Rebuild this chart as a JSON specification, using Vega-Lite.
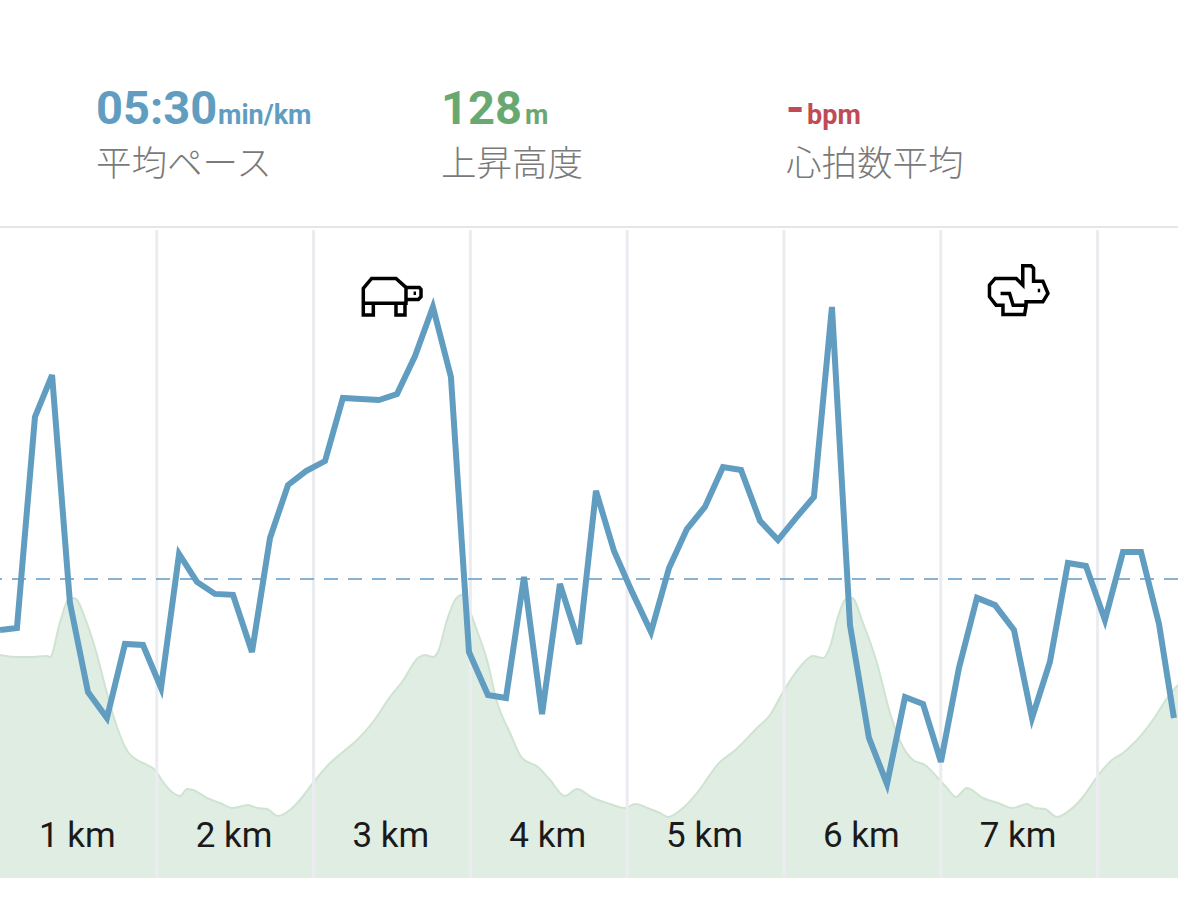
{
  "$schema": "https://vega.github.io/schema/vega-lite/v6.json",
  "description": "Running log: pace line over elevation profile, with summary figures on top.",
  "width": 1178,
  "height": 648,
  "autosize": {"type": "none"},
  "padding": {"top": 230, "left": 0, "right": 0, "bottom": 25},
  "background": "#ffffff",
  "config": {"view": {"stroke": null}},
  "datasets": {
    "stats": [
      {"stat": "pace", "value": "05:30", "unit": "min/km", "caption": "平均ペース"},
      {"stat": "climb", "value": "128", "unit": "m", "caption": "上昇高度"},
      {"stat": "heart", "value": "-", "unit": "bpm", "caption": "心拍数平均"}
    ],
    "kmMarks": [{"km": 1}, {"km": 2}, {"km": 3}, {"km": 4}, {"km": 5}, {"km": 6}, {"km": 7}],
    "average": [{"pace": 330}],
    "icons": [
      {"kind": "slow", "km": 2.5, "pace": 443.5},
      {"kind": "fast", "km": 6.5, "pace": 445.5}
    ],
    "elevation": [
      {"km": 0, "m": 44.6}, {"km": 0.096, "m": 44.2}, {"km": 0.191, "m": 44.2}, {"km": 0.3, "m": 44.4},
      {"km": 0.319, "m": 44.2}, {"km": 0.383, "m": 51.2}, {"km": 0.434, "m": 55.6}, {"km": 0.466, "m": 56},
      {"km": 0.491, "m": 55.6}, {"km": 0.542, "m": 52}, {"km": 0.606, "m": 46}, {"km": 0.682, "m": 37},
      {"km": 0.746, "m": 30.2}, {"km": 0.816, "m": 25.2}, {"km": 0.874, "m": 23.6}, {"km": 0.938, "m": 22.6},
      {"km": 0.989, "m": 21.6}, {"km": 1.04, "m": 19.2}, {"km": 1.097, "m": 17.2}, {"km": 1.148, "m": 16.4},
      {"km": 1.193, "m": 17.8}, {"km": 1.231, "m": 17.6}, {"km": 1.32, "m": 16}, {"km": 1.403, "m": 15},
      {"km": 1.486, "m": 14}, {"km": 1.582, "m": 14.6}, {"km": 1.639, "m": 14}, {"km": 1.703, "m": 13.8},
      {"km": 1.773, "m": 12.4}, {"km": 1.849, "m": 13.6}, {"km": 1.913, "m": 15.6}, {"km": 1.996, "m": 19},
      {"km": 2.105, "m": 23}, {"km": 2.187, "m": 25.2}, {"km": 2.277, "m": 27.6}, {"km": 2.379, "m": 31.2},
      {"km": 2.487, "m": 36.2}, {"km": 2.564, "m": 39.2}, {"km": 2.666, "m": 44}, {"km": 2.71, "m": 44.6},
      {"km": 2.761, "m": 44.2}, {"km": 2.793, "m": 45.2}, {"km": 2.851, "m": 51.6}, {"km": 2.902, "m": 55.6},
      {"km": 2.946, "m": 56.6}, {"km": 2.985, "m": 54.2}, {"km": 3.048, "m": 49}, {"km": 3.106, "m": 43.6},
      {"km": 3.17, "m": 35.2}, {"km": 3.253, "m": 29}, {"km": 3.329, "m": 24}, {"km": 3.431, "m": 22.2},
      {"km": 3.508, "m": 19.6}, {"km": 3.603, "m": 16.4}, {"km": 3.68, "m": 17.8}, {"km": 3.782, "m": 16},
      {"km": 3.89, "m": 14.8}, {"km": 3.986, "m": 14}, {"km": 4.05, "m": 14.8}, {"km": 4.145, "m": 13.8},
      {"km": 4.209, "m": 13}, {"km": 4.26, "m": 12.2}, {"km": 4.356, "m": 14}, {"km": 4.445, "m": 17},
      {"km": 4.592, "m": 23.2}, {"km": 4.675, "m": 25.2}, {"km": 4.828, "m": 30}, {"km": 4.911, "m": 32.6},
      {"km": 4.994, "m": 37.2}, {"km": 5.102, "m": 42.2}, {"km": 5.185, "m": 44.4}, {"km": 5.249, "m": 44},
      {"km": 5.293, "m": 46.2}, {"km": 5.344, "m": 52.2}, {"km": 5.389, "m": 55.6}, {"km": 5.434, "m": 56},
      {"km": 5.504, "m": 51}, {"km": 5.593, "m": 43}, {"km": 5.676, "m": 33}, {"km": 5.759, "m": 26.2},
      {"km": 5.823, "m": 23.6}, {"km": 5.899, "m": 22.6}, {"km": 5.976, "m": 20.2}, {"km": 6.04, "m": 18},
      {"km": 6.097, "m": 16.2}, {"km": 6.167, "m": 18}, {"km": 6.269, "m": 16}, {"km": 6.365, "m": 15},
      {"km": 6.46, "m": 14}, {"km": 6.55, "m": 14.8}, {"km": 6.601, "m": 14}, {"km": 6.665, "m": 13.8},
      {"km": 6.741, "m": 12.2}, {"km": 6.824, "m": 13.6}, {"km": 6.907, "m": 16.2}, {"km": 6.996, "m": 20.2},
      {"km": 7.092, "m": 23.6}, {"km": 7.162, "m": 25}, {"km": 7.251, "m": 27.6}, {"km": 7.353, "m": 31.6},
      {"km": 7.449, "m": 36.2}, {"km": 7.513, "m": 38.6}
    ],
    "pace": [
      {"km": 0, "pace": 309.5}, {"km": 0.108, "pace": 310.3}, {"km": 0.223, "pace": 395}, {"km": 0.332, "pace": 411.8},
      {"km": 0.446, "pace": 320.4}, {"km": 0.561, "pace": 284.6}, {"km": 0.682, "pace": 274.2}, {"km": 0.797, "pace": 303.9},
      {"km": 0.912, "pace": 303.5}, {"km": 1.027, "pace": 286.3}, {"km": 1.142, "pace": 340}, {"km": 1.256, "pace": 328.8},
      {"km": 1.371, "pace": 324}, {"km": 1.486, "pace": 323.6}, {"km": 1.607, "pace": 300.7}, {"km": 1.722, "pace": 346.4},
      {"km": 1.837, "pace": 367.7}, {"km": 1.952, "pace": 373.3}, {"km": 2.073, "pace": 377.3}, {"km": 2.187, "pace": 402.6},
      {"km": 2.302, "pace": 402.2}, {"km": 2.417, "pace": 401.8}, {"km": 2.532, "pace": 404.2}, {"km": 2.647, "pace": 419.4},
      {"km": 2.761, "pace": 439.1}, {"km": 2.876, "pace": 411}, {"km": 2.991, "pace": 300.7}, {"km": 3.112, "pace": 283.4},
      {"km": 3.227, "pace": 282.2}, {"km": 3.342, "pace": 330.8}, {"km": 3.457, "pace": 275.8}, {"km": 3.571, "pace": 328},
      {"km": 3.693, "pace": 303.9}, {"km": 3.801, "pace": 365.3}, {"km": 3.916, "pace": 341.2}, {"km": 4.031, "pace": 324.8},
      {"km": 4.152, "pace": 308.7}, {"km": 4.267, "pace": 334.4}, {"km": 4.381, "pace": 350}, {"km": 4.496, "pace": 358.9},
      {"km": 4.611, "pace": 374.9}, {"km": 4.726, "pace": 373.7}, {"km": 4.847, "pace": 353.3}, {"km": 4.962, "pace": 345.6},
      {"km": 5.077, "pace": 354.5}, {"km": 5.191, "pace": 362.9}, {"km": 5.306, "pace": 439.1}, {"km": 5.421, "pace": 311.5},
      {"km": 5.542, "pace": 266.2}, {"km": 5.657, "pace": 247.7}, {"km": 5.772, "pace": 282.6}, {"km": 5.887, "pace": 279.8},
      {"km": 6.001, "pace": 256.6}, {"km": 6.116, "pace": 294.3}, {"km": 6.231, "pace": 322.4}, {"km": 6.346, "pace": 319.5},
      {"km": 6.467, "pace": 309.5}, {"km": 6.582, "pace": 274.2}, {"km": 6.696, "pace": 296.7}, {"km": 6.811, "pace": 336.4},
      {"km": 6.926, "pace": 335.2}, {"km": 7.047, "pace": 313.5}, {"km": 7.162, "pace": 340.8}, {"km": 7.277, "pace": 340.8},
      {"km": 7.392, "pace": 311.9}, {"km": 7.487, "pace": 274.2}
    ]
  },
  "resolve": {"scale": {"x": "independent", "y": "independent"}},
  "layer": [
    {
      "data": {"name": "elevation"},
      "mark": {"type": "area", "color": "#e0ede3", "opacity": 1, "interpolate": "monotone", "line": {"color": "#cfe3d2", "strokeWidth": 2}},
      "encoding": {
        "x": {"field": "km", "type": "quantitative", "scale": {"domain": [0, 7.513], "nice": false}, "axis": null},
        "y": {"field": "m", "type": "quantitative", "scale": {"domain": [0, 129.6], "nice": false}, "axis": null}
      }
    },
    {
      "data": {"name": "kmMarks"},
      "mark": {"type": "rule", "color": "#ebecf0", "strokeWidth": 3},
      "encoding": {
        "x": {
          "field": "km",
          "type": "quantitative",
          "scale": {"domain": [0, 7.513], "nice": false},
          "axis": {
            "title": null,
            "values": [1, 2, 3, 4, 5, 6, 7],
            "labelExpr": "datum.value + ' km'",
            "orient": "bottom",
            "offset": -43,
            "labelOffset": -80,
            "labelPadding": 0,
            "labelBaseline": "middle",
            "labelFont": "Roboto",
            "labelFontSize": 35,
            "labelColor": "#1a1a1a",
            "labelFlush": false,
            "labelOverlap": false,
            "labelBound": false,
            "domain": false,
            "ticks": false,
            "grid": false,
            "zindex": 1
          }
        }
      }
    },
    {
      "data": {"name": "average"},
      "mark": {"type": "rule", "color": "#5f9bc8", "strokeWidth": 1.5, "strokeDash": [14, 10]},
      "encoding": {
        "y": {"field": "pace", "type": "quantitative", "scale": {"domain": [210, 470], "nice": false, "zero": false}, "axis": null}
      }
    },
    {
      "data": {"name": "pace"},
      "mark": {"type": "line", "color": "#609dc0", "strokeWidth": 6},
      "encoding": {
        "x": {"field": "km", "type": "quantitative", "scale": {"domain": [0, 7.513], "nice": false}, "axis": null},
        "y": {"field": "pace", "type": "quantitative", "scale": {"domain": [210, 470], "nice": false, "zero": false}, "axis": null}
      }
    },
    {
      "data": {"name": "icons"},
      "transform": [{"filter": "datum.kind === 'slow'"}],
      "mark": {
        "type": "point",
        "filled": false,
        "stroke": "#000000",
        "strokeWidth": 3.5,
        "opacity": 1,
        "size": 3600,
        "shape": "M -.956 .244 L -.956 -.256 L -.678 -.589 L .133 -.589 L .467 -.289 L .911 -.289 L .967 -.222 L .967 .022 L .878 .111 L .467 .111 L .467 .244 Z M -.956 .244 L -.956 .633 L -.622 .633 L -.622 .244 M .133 .244 L .133 .633 L .433 .633 L .433 .244 M .467 -.289 L .467 .111 M .72 -.09 L .8 -.09"
      },
      "encoding": {
        "x": {"field": "km", "type": "quantitative", "scale": {"domain": [0, 7.513], "nice": false}, "axis": null},
        "y": {"field": "pace", "type": "quantitative", "scale": {"domain": [210, 470], "nice": false, "zero": false}, "axis": null}
      }
    },
    {
      "data": {"name": "icons"},
      "transform": [{"filter": "datum.kind === 'fast'"}],
      "mark": {
        "type": "point",
        "filled": false,
        "stroke": "#000000",
        "strokeWidth": 3.5,
        "opacity": 1,
        "size": 3600,
        "shape": "M -.8 -.42 L -.1 -.42 L .12 -.2 L .12 -.84 L .4 -.84 L .48 -.76 L .48 -.33 L .79 -.33 L .96 .08 L .79 .36 L .23 .36 L .23 .5 L .18 .78 L -.54 .78 L -.54 .47 L -.77 .47 L -.99 .19 L -.99 -.2 Z M -.62 .08 L -.32 .08 L -.2 .47 L .23 .47 M .62 -.02 L .7 -.02"
      },
      "encoding": {
        "x": {"field": "km", "type": "quantitative", "scale": {"domain": [0, 7.513], "nice": false}, "axis": null},
        "y": {"field": "pace", "type": "quantitative", "scale": {"domain": [210, 470], "nice": false, "zero": false}, "axis": null}
      }
    },
    {
      "data": {"values": [{"line": "divider"}]},
      "mark": {"type": "rule", "color": "#dedede", "strokeWidth": 1.5},
      "encoding": {
        "y": {"field": "line", "type": "nominal", "scale": {"type": "point", "padding": 0, "domain": ["figure", "caption", "divider"], "range": [-106, -3]}, "axis": null}
      }
    },
    {
      "data": {"name": "stats"},
      "mark": {"type": "text", "align": "left", "baseline": "alphabetic", "font": "Roboto", "fontWeight": "bold", "fontSize": 47},
      "encoding": {
        "text": {"field": "value"},
        "x": {"field": "stat", "type": "nominal", "scale": {"type": "point", "padding": 0, "domain": ["pace", "climb", "heart"], "range": [96, 786]}, "axis": null},
        "y": {"datum": "figure", "type": "nominal", "scale": {"type": "point", "padding": 0, "domain": ["figure", "caption", "divider"], "range": [-106, -3]}, "axis": null},
        "color": {"field": "stat", "type": "nominal", "legend": null, "scale": {"domain": ["pace", "climb", "heart"], "range": ["#609dc0", "#69a971", "#bf4b57"]}}
      }
    },
    {
      "data": {"name": "stats"},
      "transform": [{"filter": "datum.stat === 'pace'"}],
      "mark": {"type": "text", "align": "left", "baseline": "alphabetic", "font": "Roboto", "fontWeight": "bold", "fontSize": 27, "dx": 122},
      "encoding": {
        "text": {"field": "unit"},
        "x": {"field": "stat", "type": "nominal", "scale": {"type": "point", "padding": 0, "domain": ["pace", "climb", "heart"], "range": [96, 786]}, "axis": null},
        "y": {"datum": "figure", "type": "nominal", "scale": {"type": "point", "padding": 0, "domain": ["figure", "caption", "divider"], "range": [-106, -3]}, "axis": null},
        "color": {"field": "stat", "type": "nominal", "legend": null, "scale": {"domain": ["pace", "climb", "heart"], "range": ["#609dc0", "#69a971", "#bf4b57"]}}
      }
    },
    {
      "data": {"name": "stats"},
      "transform": [{"filter": "datum.stat === 'climb'"}],
      "mark": {"type": "text", "align": "left", "baseline": "alphabetic", "font": "Roboto", "fontWeight": "bold", "fontSize": 27, "dx": 84},
      "encoding": {
        "text": {"field": "unit"},
        "x": {"field": "stat", "type": "nominal", "scale": {"type": "point", "padding": 0, "domain": ["pace", "climb", "heart"], "range": [96, 786]}, "axis": null},
        "y": {"datum": "figure", "type": "nominal", "scale": {"type": "point", "padding": 0, "domain": ["figure", "caption", "divider"], "range": [-106, -3]}, "axis": null},
        "color": {"field": "stat", "type": "nominal", "legend": null, "scale": {"domain": ["pace", "climb", "heart"], "range": ["#609dc0", "#69a971", "#bf4b57"]}}
      }
    },
    {
      "data": {"name": "stats"},
      "transform": [{"filter": "datum.stat === 'heart'"}],
      "mark": {"type": "text", "align": "left", "baseline": "alphabetic", "font": "Roboto", "fontWeight": "bold", "fontSize": 27, "dx": 21},
      "encoding": {
        "text": {"field": "unit"},
        "x": {"field": "stat", "type": "nominal", "scale": {"type": "point", "padding": 0, "domain": ["pace", "climb", "heart"], "range": [96, 786]}, "axis": null},
        "y": {"datum": "figure", "type": "nominal", "scale": {"type": "point", "padding": 0, "domain": ["figure", "caption", "divider"], "range": [-106, -3]}, "axis": null},
        "color": {"field": "stat", "type": "nominal", "legend": null, "scale": {"domain": ["pace", "climb", "heart"], "range": ["#609dc0", "#69a971", "#bf4b57"]}}
      }
    },
    {
      "data": {"name": "stats"},
      "mark": {"type": "text", "align": "left", "baseline": "alphabetic", "font": "Noto Sans CJK JP", "fontWeight": 300, "fontSize": 35.5, "color": "#7a7a7a"},
      "encoding": {
        "text": {"field": "caption"},
        "x": {"field": "stat", "type": "nominal", "scale": {"type": "point", "padding": 0, "domain": ["pace", "climb", "heart"], "range": [96, 786]}, "axis": null},
        "y": {"datum": "caption", "type": "nominal", "scale": {"type": "point", "padding": 0, "domain": ["figure", "caption", "divider"], "range": [-106, -3]}, "axis": null}
      }
    }
  ]
}
